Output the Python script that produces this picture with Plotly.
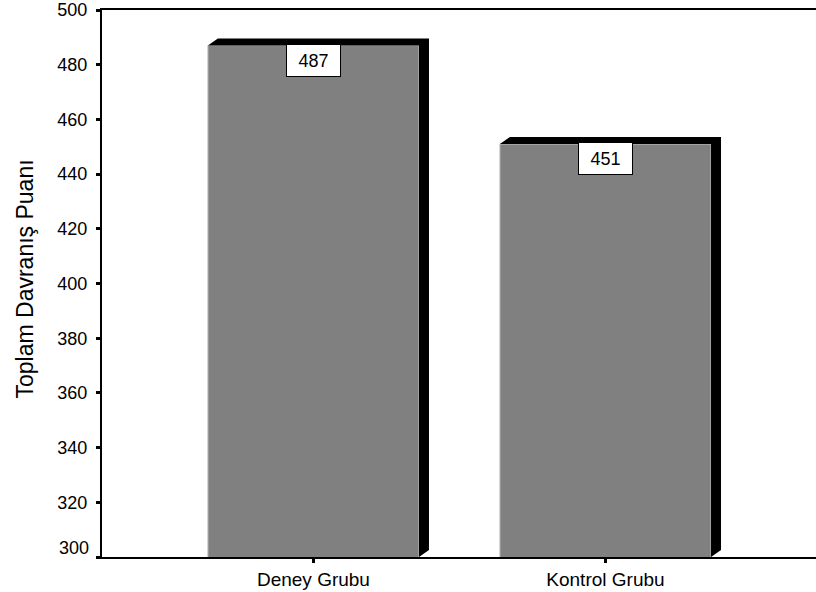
import plotly.graph_objects as go

categories = ["Deney Grubu", "Kontrol Grubu"]
values = [487, 451]
y_ticks = [300, 320, 340, 360, 380, 400, 420, 440, 460, 480, 500]
y_title = "Toplam Davranış Puanı"

FONT = "Liberation Sans, Arial, sans-serif"
W, H = 816, 592
ML, MR, MT, MB = 102, 0, 10, 35
X_RANGE = [-0.724, 1.721]
Y_RANGE = [300, 500]
BAR_W = 0.723
DEPTH_PX = (10, 7)

plot_w = W - ML - MR
plot_h = H - MT - MB
dx = DEPTH_PX[0] * (X_RANGE[1] - X_RANGE[0]) / plot_w
dy = DEPTH_PX[1] * (Y_RANGE[1] - Y_RANGE[0]) / plot_h

fig = go.Figure()

xs = list(range(len(categories)))

# 3D depth shadows
for i, v in zip(xs, values):
    xl, xr = i - BAR_W / 2, i + BAR_W / 2
    base = Y_RANGE[0]
    px = [xl, xl + dx, xr + dx, xr + dx, xr, xr, xl]
    py = [v, v + dy, v + dy, base + dy, base, v, v]
    fig.add_trace(go.Scatter(x=px, y=py, fill="toself", fillcolor="black",
                             line=dict(color="black", width=0), mode="lines",
                             hoverinfo="skip", showlegend=False))

fig.add_trace(go.Bar(x=xs, y=values, width=BAR_W,
                     marker=dict(color="#808080", line=dict(color="#c4c4c4", width=1)),
                     showlegend=False))

annotations = []
for i, v in zip(xs, values):
    annotations.append(dict(x=i, y=v, xref="x", yref="y", text=str(v), showarrow=False,
                            yanchor="top", yshift=2, bgcolor="white", bordercolor="black",
                            borderwidth=1, borderpad=4, width=45, height=23,
                            font=dict(family=FONT, size=18, color="black")))

# y-axis title
annotations.append(dict(x=(24 - ML) / plot_w, y=0.5, xref="paper", yref="paper",
                        text=y_title, textangle=-90, showarrow=False,
                        xanchor="center", yanchor="middle", yshift=4,
                        font=dict(family=FONT, size=23, color="black")))
# lowest tick label drawn slightly raised, as in the original
annotations.append(dict(x=0, y=y_ticks[0], xref="paper", yref="y", text=str(y_ticks[0]),
                        showarrow=False, xanchor="right", yanchor="middle",
                        xshift=-11, yshift=9,
                        font=dict(family=FONT, size=18, color="black")))

fig.update_layout(
    width=W, height=H,
    margin=dict(l=ML, r=MR, t=MT, b=MB),
    plot_bgcolor="white", paper_bgcolor="white",
    font=dict(family=FONT, size=18, color="black"),
    annotations=annotations,
    xaxis=dict(range=X_RANGE, tickvals=xs, ticktext=categories,
               showline=True, linecolor="black", linewidth=2, mirror=True,
               ticks="outside", ticklen=4, tickwidth=3, tickcolor="black",
               showgrid=False, zeroline=False,
               tickfont=dict(family=FONT, size=19, color="black")),
    yaxis=dict(range=Y_RANGE, tickvals=y_ticks,
               ticktext=[""] + [str(t) for t in y_ticks[1:]],
               showline=True, linecolor="black", linewidth=2,
               ticks="outside", ticklen=4, tickwidth=3, tickcolor="black",
               ticklabelstandoff=5,
               showgrid=False, zeroline=False,
               tickfont=dict(family=FONT, size=18, color="black")),
)

fig.write_html("out.html", config={"displayModeBar": False},
               post_script="document.body.style.margin='0';document.body.style.overflow='hidden';")
